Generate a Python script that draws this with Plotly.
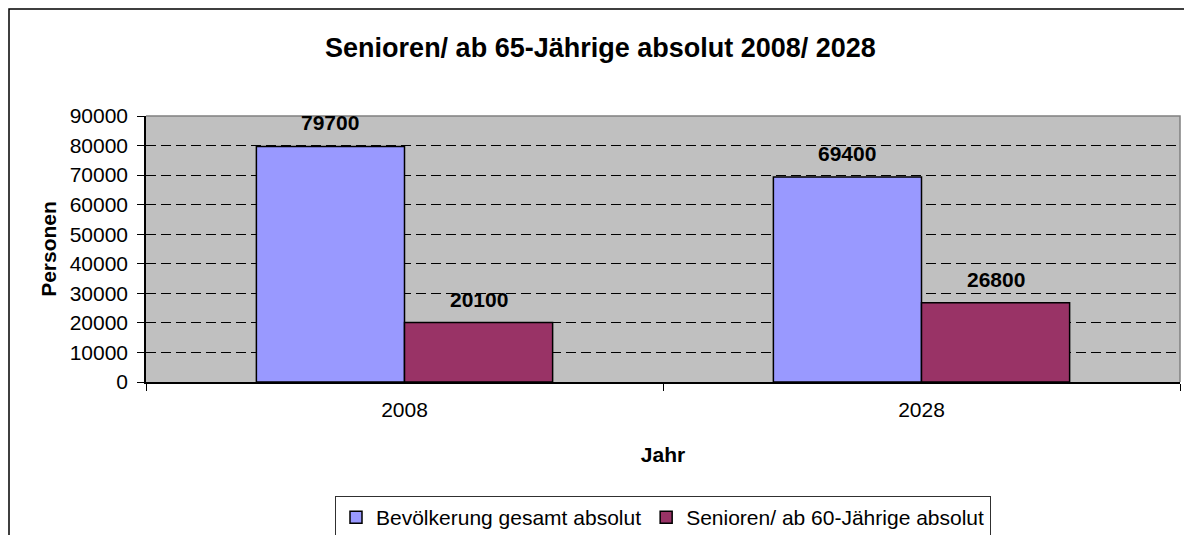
import plotly.graph_objects as go

# ---- data ----
years = ["2008", "2028"]
series_names = ["Bevölkerung gesamt absolut", "Senioren/ ab 60-Jährige absolut"]
bevoelkerung = [79700, 69400]
senioren = [20100, 26800]
y_ticks = [0, 10000, 20000, 30000, 40000, 50000, 60000, 70000, 80000, 90000]

colors = ["#9999FF", "#993366"]
FONT = "Liberation Sans, Arial, sans-serif"
BARGAP = 0.427

W, H = 1184, 527
L, R, T, B = 138, 12, 108, 153
PW, PH = W - L - R, H - T - B

fig = go.Figure()
for name, vals, col in zip(series_names, [bevoelkerung, senioren], colors):
    fig.add_trace(go.Bar(
        x=years, y=vals, name=name,
        marker=dict(color=col, line=dict(color="black", width=1.5)),
    ))

# data labels above the bars
half = (1 - BARGAP) / 4
annotations = []
for s, vals in enumerate([bevoelkerung, senioren]):
    off = -half if s == 0 else half
    for i, v in enumerate(vals):
        annotations.append(dict(
            x=i + off, y=v, xref="x", yref="y", text=f"<b>{v}</b>",
            showarrow=False, yanchor="bottom", yshift=10,
            font=dict(family=FONT, size=21, color="black"),
        ))

fig.update_layout(
    width=W, height=H,
    margin=dict(l=L, r=R, t=T, b=B, autoexpand=False),
    paper_bgcolor="white", plot_bgcolor="#C0C0C0",
    barmode="group", bargap=BARGAP, bargroupgap=0,
    font=dict(family=FONT, size=21, color="black"),
    title=dict(text="<b>Senioren/ ab 65-Jährige absolut 2008/ 2028</b>",
               x=0.5004, xanchor="center", y=1 - 40 / H, yanchor="middle",
               yref="container",
               font=dict(family=FONT, size=27, color="black")),
    showlegend=True,
    legend=dict(orientation="h", x=0.5, xanchor="center",
                y=(PH - (488 - T)) / PH, yanchor="top",
                bordercolor="#303030", borderwidth=1, bgcolor="white",
                font=dict(family=FONT, size=21, color="black"),
                itemwidth=30, traceorder="normal"),
    annotations=annotations,
    shapes=[
        # grey top/right border of plot area
        dict(type="path", xref="paper", yref="paper", path="M 0 1 L 1 1 L 1 0",
             line=dict(color="#808080", width=1.5), layer="above"),
        # outer chart frame
        dict(type="rect", xref="paper", yref="paper",
             x0=(1 - L) / PW, x1=(W + 10 - L) / PW,
             y0=-(H + 10 - T - PH) / PH, y1=1 + (T - 1) / PH,
             line=dict(color="black", width=1.5), layer="below"),
    ],
)

fig.update_xaxes(
    type="category", tickson="boundaries", ticks="outside", ticklen=7,
    tickcolor="black", showline=True, linecolor="black", linewidth=1.5,
    showgrid=False, ticklabelstandoff=8, automargin=False,
    tickfont=dict(family=FONT, size=21, color="black"),
    title=dict(text="<b>Jahr</b>", standoff=27,
               font=dict(family=FONT, size=21, color="black")),
)
fig.update_yaxes(
    range=[0, 90000], tickvals=y_ticks, ticktext=[str(t) for t in y_ticks],
    ticks="outside", ticklen=7, tickcolor="black",
    showline=True, linecolor="black", linewidth=1.5,
    showgrid=True, gridcolor="black", gridwidth=1, griddash="10px,5px",
    zeroline=False, ticklabelstandoff=5, automargin=False,
    tickfont=dict(family=FONT, size=21, color="black"),
    title=dict(text="<b>Personen</b>", standoff=7,
               font=dict(family=FONT, size=21, color="black")),
)

fig.write_html("out.html")
